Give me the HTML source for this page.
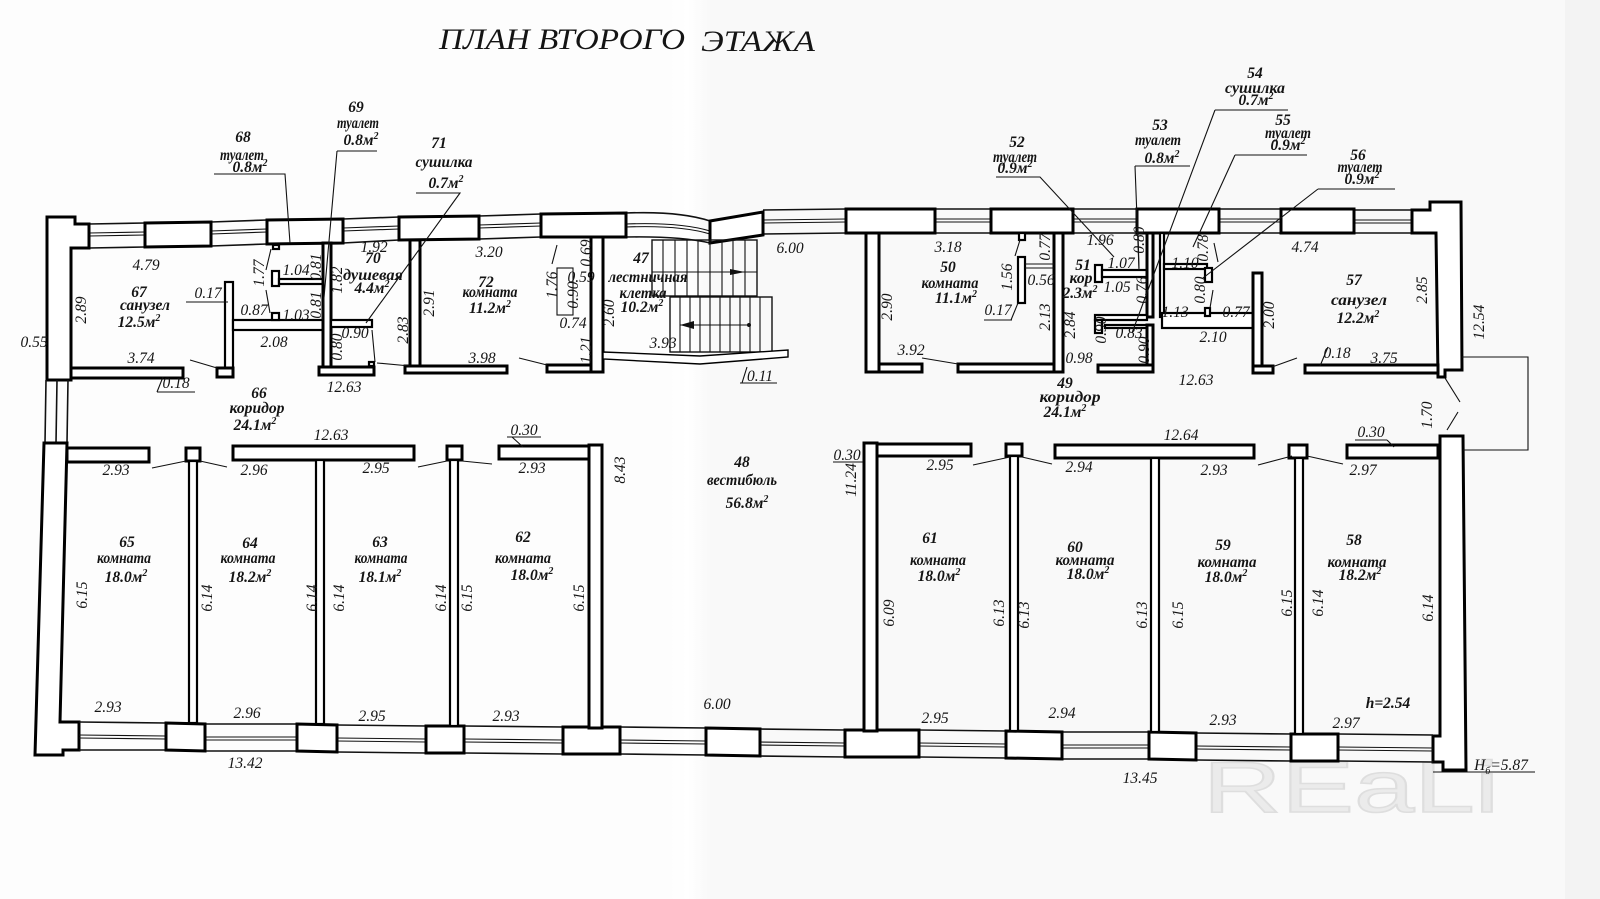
<!DOCTYPE html>
<html><head><meta charset="utf-8">
<style>
html,body{margin:0;padding:0;background:#fff;}
svg{display:block;}
text{font-family:"Liberation Serif","DejaVu Serif",serif;font-style:italic;font-size:15.5px;fill:#141414;text-anchor:middle;}
.b{font-weight:bold;}
.n{font-size:15px;font-weight:bold;}
.w{fill:#fff;stroke:#000;stroke-width:3;stroke-linejoin:miter;}
.p{fill:#fff;stroke:#000;stroke-width:2.2;}
.t{fill:none;stroke:#111;stroke-width:1.1;}
.win{fill:none;stroke:#111;stroke-width:1.6;}
.wm{fill:none;stroke:#111;stroke-width:1.1;}
</style></head>
<body>
<svg width="1600" height="899" viewBox="0 0 1600 899" xmlns="http://www.w3.org/2000/svg">
<defs>
<linearGradient id="fold" x1="0" x2="1" y1="0" y2="0">
<stop offset="0" stop-color="#fdfdfd"/><stop offset="0.5" stop-color="#ffffff"/><stop offset="1" stop-color="#f9f9f9"/>
</linearGradient>
</defs>
<rect x="0" y="0" width="1600" height="899" fill="#fdfdfd"/>
<rect x="700" y="0" width="900" height="899" fill="#f9f9f9"/>
<rect x="668" y="0" width="40" height="899" fill="url(#fold)"/>
<rect x="1565" y="0" width="35" height="899" fill="#f3f3f3"/>

<!-- watermark -->
<text x="1203" y="812" textLength="296" lengthAdjust="spacingAndGlyphs" style="font-family:'Liberation Sans','DejaVu Sans',sans-serif;font-style:normal;font-size:72px;fill:#ebebeb;stroke:#dedede;stroke-width:1.5;text-anchor:start;">REaLi</text>

<!-- title -->
<text x="439" y="49" textLength="246" lengthAdjust="spacingAndGlyphs" style="font-size:30px;text-anchor:start;">ПЛАН ВТОРОГО</text>
<text x="701" y="51" textLength="114" lengthAdjust="spacingAndGlyphs" style="font-size:30px;text-anchor:start;">ЭТАЖА</text>

<!-- ===== TOP WALL ===== -->
<path class="win" d="M89,224 L145,223 M89,248 L145,247 M211,222 L267,220 M211,246 L267,244 M343,219 L399,217 M343,243 L399,240 M479,216 L541,214 M479,239 L541,237 M626,213 Q680,211 710,221 M626,237 Q680,236 710,243 M763,210 L846,209 M763,234 L846,233 M935,209 L991,209 M935,233 L991,233 M1073,209 L1137,209 M1073,233 L1137,233 M1219,209 L1281,209 M1219,233 L1281,233 M1354,210 L1412,210 M1354,233 L1412,233"/>
<path class="wm" d="M89,233 L145,232 M89,236 L145,235 M211,231 L267,229 M211,234 L267,232 M343,228 L399,226 M343,231 L399,229 M479,225 L541,223 M479,228 L541,226 M626,224 Q680,222 710,231 M626,227 Q680,225 710,234 M763,220 L846,219 M763,223 L846,222 M935,219 L991,219 M935,222 L991,222 M1073,219 L1137,219 M1073,222 L1137,222 M1219,219 L1281,219 M1219,222 L1281,222 M1354,220 L1412,220 M1354,223 L1412,223"/>
<polygon class="w" points="47,217 75,217 75,224 89,224 89,248 71,248 71,380 47,380"/>
<polygon class="w" points="145,223 211,222 211,246 145,247"/>
<polygon class="w" points="267,220 343,219 343,243 267,244"/>
<polygon class="w" points="399,217 479,216 479,239 399,240"/>
<polygon class="w" points="541,214 626,213 626,237 541,237"/>
<polygon class="w" points="710,221 763,212 763,235 710,243"/>
<polygon class="w" points="846,209 935,209 935,233 846,233"/>
<polygon class="w" points="991,209 1073,209 1073,233 991,233"/>
<polygon class="w" points="1137,209 1219,209 1219,233 1137,233"/>
<polygon class="w" points="1281,209 1354,209 1354,233 1281,233"/>
<polygon class="w" points="1412,210 1430,210 1430,202 1461,202 1462,370 1445,370 1445,377 1438,377 1436,233 1412,233"/>

<path class="win" d="M46,380 L45,443 M57,380 L56,443 M68,380 L67,443"/>
<polygon class="w" points="44,443 67,443 60,722 79,722 79,750 63,750 63,755 35,755"/>

<polygon class="w" points="1440,436 1463,436 1466,770 1443,770 1443,762 1433,762 1433,736 1440,736"/>
<path class="t" d="M1445,378 L1460,402 M1458,412 L1447,430"/>
<polyline class="t" points="1462,357 1528,357 1528,450 1463,450"/>

<!-- ===== BOTTOM WALL ===== -->
<path class="win" d="M79,722 L166,723 M79,750 L166,750 M205,724 L297,724 M205,751 L297,751 M337,725 L426,726 M337,752 L426,753 M464,726 L563,727 M464,753 L563,754 M620,727 L706,728 M620,754 L706,755 M760,729 L845,730 M760,756 L845,757 M919,730 L1006,731 M919,757 L1006,758 M1062,732 L1149,732 M1062,759 L1149,759 M1196,733 L1291,734 M1196,760 L1291,761 M1338,734 L1433,735 M1338,761 L1433,762"/>
<path class="wm" d="M79,735 L166,736 M79,738 L166,739 M205,737 L297,737 M205,740 L297,740 M337,738 L426,739 M337,741 L426,742 M464,739 L563,740 M464,742 L563,743 M620,740 L706,741 M620,743 L706,744 M760,742 L845,743 M760,745 L845,746 M919,743 L1006,744 M919,746 L1006,747 M1062,745 L1149,745 M1062,748 L1149,748 M1196,746 L1291,747 M1196,749 L1291,750 M1338,747 L1433,748 M1338,750 L1433,751"/>
<polygon class="w" points="166,723 205,724 205,751 166,750"/>
<polygon class="w" points="297,724 337,725 337,752 297,751"/>
<polygon class="w" points="426,726 464,726 464,753 426,753"/>
<polygon class="w" points="563,727 620,727 620,754 563,754"/>
<polygon class="w" points="706,728 760,729 760,756 706,755"/>
<polygon class="w" points="845,730 919,730 919,757 845,757"/>
<polygon class="w" points="1006,731 1062,732 1062,759 1006,758"/>
<polygon class="w" points="1149,732 1196,733 1196,760 1149,759"/>
<polygon class="w" points="1291,734 1338,734 1338,761 1291,761"/>

<rect class="w" x="589" y="445" width="13" height="283"/>
<rect class="w" x="864" y="443" width="13" height="288"/>

<rect class="w" x="67" y="448" width="82" height="14"/>
<rect class="w" x="186" y="448" width="14" height="13"/>
<rect class="w" x="233" y="446" width="181" height="14"/>
<rect class="w" x="447" y="446" width="15" height="14"/>
<rect class="w" x="499" y="446" width="90" height="13"/>
<rect class="w" x="877" y="444" width="94" height="12"/>
<rect class="w" x="1006" y="444" width="16" height="12"/>
<rect class="w" x="1055" y="445" width="199" height="13"/>
<rect class="w" x="1289" y="445" width="18" height="13"/>
<rect class="w" x="1347" y="445" width="91" height="13"/>

<rect class="p" x="189" y="461" width="8" height="262"/>
<rect class="p" x="316" y="460" width="8" height="264"/>
<rect class="p" x="450" y="460" width="8" height="266"/>
<rect class="p" x="1010" y="456" width="8" height="275"/>
<rect class="p" x="1151" y="458" width="8" height="274"/>
<rect class="p" x="1295" y="458" width="8" height="276"/>

<path class="t" d="M152,468 L186,461 M200,461 L227,467 M418,467 L447,461 M462,461 L492,464 M973,465 L1010,457 M1022,457 L1052,464 M1258,465 L1292,456 M1307,456 L1343,464"/>

<!-- ===== LEFT UPPER BLOCK ===== -->
<rect class="w" x="71" y="368" width="112" height="10"/>
<rect class="p" x="225" y="282" width="8" height="86"/>
<rect class="w" x="217" y="368" width="16" height="9"/>
<rect class="p" x="233" y="320" width="90" height="10"/>
<rect class="p" x="272" y="271" width="7" height="15"/>
<rect class="p" x="279" y="279" width="44" height="5"/>
<rect class="p" x="272" y="313" width="7" height="7"/>
<rect class="p" x="273" y="245" width="6" height="4"/>
<rect class="w" x="323" y="243" width="8" height="125"/>
<rect class="w" x="319" y="367" width="55" height="8"/>
<rect class="p" x="331" y="320" width="41" height="7"/>
<rect class="w" x="410" y="240" width="10" height="126"/>
<rect class="w" x="405" y="366" width="102" height="7"/>
<rect class="w" x="547" y="365" width="44" height="7"/>
<rect class="w" x="591" y="237" width="12" height="135"/>
<rect class="t" x="557" y="268" width="16" height="47"/>
<rect class="p" x="369" y="362" width="5" height="4"/>
<path class="t" d="M190,360 L217,368 M271,249 L266,270 M266,290 L270,313 M372,330 L375,362 M377,363 L410,366 M519,358 L547,365 M557,245 L552,264"/>

<!-- stairs -->
<rect class="t" x="652" y="240" width="105" height="56" style="stroke-width:1.4"/>
<path class="t" d="M663,240V296M675,240V296M687,240V296M698,240V296M710,240V296M722,240V296M733,240V296M745,240V296"/>
<line class="t" x1="652" y1="272" x2="757" y2="272"/>
<polygon points="730,269 745,272 730,275" fill="#111"/>
<rect class="t" x="670" y="297" width="102" height="55" style="stroke-width:1.4"/>
<path class="t" d="M680,297V352M690,297V352M700,297V352M710,297V352M720,297V352M730,297V352M740,297V352M750,297V352M760,297V352"/>
<line class="t" x1="680" y1="325" x2="750" y2="325"/>
<polygon points="680,325 694,321 694,329" fill="#111"/>
<circle cx="749" cy="325" r="2" fill="#111"/>
<polygon class="p" style="stroke-width:1.4" points="603,352 700,356 788,350 788,357 700,364 603,359"/>

<!-- ===== RIGHT UPPER BLOCK ===== -->
<rect class="w" x="866" y="233" width="13" height="139"/>
<rect class="w" x="879" y="364" width="43" height="8"/>
<rect class="w" x="958" y="364" width="96" height="8"/>
<rect class="w" x="1054" y="233" width="9" height="139"/>
<rect class="p" x="1018" y="257" width="7" height="46"/>
<rect class="p" x="1019" y="233" width="6" height="7"/>
<path class="t" d="M1025,264 L1054,264 M1025,268 L1054,268 M1020,240 L1015,256 M1018,303 L1011,320 M984,320 L1012,320"/>
<rect class="p" x="1095" y="265" width="7" height="17"/>
<rect class="p" x="1102" y="270" width="45" height="7"/>
<rect class="w" x="1147" y="233" width="6" height="84"/>
<rect class="p" x="1160" y="233" width="4" height="84"/>
<rect class="p" x="1164" y="264" width="43" height="5"/>
<rect class="p" x="1205" y="268" width="7" height="14"/>
<rect class="p" x="1162" y="313" width="91" height="15"/>
<rect class="w" x="1253" y="273" width="9" height="100"/>
<rect class="w" x="1253" y="366" width="20" height="7"/>
<rect class="p" x="1095" y="315" width="52" height="5"/>
<rect class="p" x="1095" y="320" width="7" height="13"/>
<rect class="p" x="1105" y="325" width="42" height="3"/>
<rect class="w" x="1147" y="325" width="6" height="42"/>
<rect class="w" x="1098" y="365" width="55" height="7"/>
<rect class="p" x="1205" y="308" width="5" height="8"/>
<path class="t" d="M1138,233 L1139,268 M1214,243 L1218,262 M1213,290 L1210,308"/>
<rect class="w" x="1305" y="365" width="133" height="8"/>
<path class="t" d="M922,358 L958,364 M1272,367 L1297,358 M1320,366 L1328,347"/>

<!-- leaders -->
<path class="t" d="M214,174 L285,174 L290,243 M337,151 L377,151 M337,151 L322,320 M416,193 L460,193 L366,323 M996,177 L1040,177 L1114,257 M1135,166 L1190,166 M1135,166 L1139,270 M1215,110 L1288,110 M1215,110 L1132,333 M1235,155 L1307,155 M1235,155 L1193,247 M1318,189 L1395,189 M1318,189 L1203,278"/>
<path class="t" d="M186,302 L228,302 M157,392 L195,392 M157,392 L163,377 M507,437 L541,437 M512,437 L523,447 M740,383 L777,383 M742,383 L747,367 M833,462 L863,462 M1355,440 L1387,440 M1387,440 L1394,447 M1433,772 L1535,772"/>

<!-- ===== TEXT: left top ===== -->
<g class="n">
<text x="243" y="142">68</text>
<text x="242" y="160" textLength="44" lengthAdjust="spacingAndGlyphs">туалет</text>
<text x="250" y="172">0.8м<tspan dy="-6" font-size="10">2</tspan></text>
<text x="356" y="112">69</text>
<text x="358" y="128" textLength="42" lengthAdjust="spacingAndGlyphs">туалет</text>
<text x="361" y="145">0.8м<tspan dy="-6" font-size="10">2</tspan></text>
<text x="439" y="148">71</text>
<text x="444" y="167" textLength="57" lengthAdjust="spacingAndGlyphs">сушилка</text>
<text x="446" y="188">0.7м<tspan dy="-6" font-size="10">2</tspan></text>
<text x="373" y="263">70</text>
<text x="373" y="280" textLength="60" lengthAdjust="spacingAndGlyphs">душевая</text>
<text x="372" y="293">4.4м<tspan dy="-6" font-size="10">2</tspan></text>
<text x="139" y="297">67</text>
<text x="145" y="310" textLength="50" lengthAdjust="spacingAndGlyphs">санузел</text>
<text x="139" y="327">12.5м<tspan dy="-6" font-size="10">2</tspan></text>
<text x="486" y="287">72</text>
<text x="490" y="297" textLength="55" lengthAdjust="spacingAndGlyphs">комната</text>
<text x="490" y="313">11.2м<tspan dy="-6" font-size="10">2</tspan></text>
<text x="641" y="263">47</text>
<text x="648" y="282" textLength="79" lengthAdjust="spacingAndGlyphs">лестничная</text>
<text x="643" y="298" textLength="47" lengthAdjust="spacingAndGlyphs">клетка</text>
<text x="642" y="312">10.2м<tspan dy="-6" font-size="10">2</tspan></text>
<text x="259" y="398">66</text>
<text x="257" y="413" textLength="55" lengthAdjust="spacingAndGlyphs">коридор</text>
<text x="255" y="430">24.1м<tspan dy="-6" font-size="10">2</tspan></text>
</g>
<text x="374" y="252">1.92</text>
<text x="146" y="270">4.79</text>
<text transform="translate(81,310) rotate(-90)" y="5">2.89</text>
<text x="34" y="347">0.55</text>
<text transform="translate(259,273) rotate(-90)" y="5">1.77</text>
<text x="296" y="275">1.04</text>
<text transform="translate(316,267) rotate(-90)" y="5">0.81</text>
<text transform="translate(316,305) rotate(-90)" y="5">0.81</text>
<text transform="translate(337,280) rotate(-90)" y="5">1.82</text>
<text x="208" y="298">0.17</text>
<text x="254" y="315">0.87</text>
<text x="296" y="320">1.03</text>
<text x="274" y="347">2.08</text>
<text transform="translate(337,347) rotate(-90)" y="5">0.80</text>
<text x="355" y="338">0.90</text>
<text transform="translate(403,330) rotate(-90)" y="5">2.83</text>
<text transform="translate(429,303) rotate(-90)" y="5">2.91</text>
<text x="489" y="257">3.20</text>
<text x="482" y="363">3.98</text>
<text transform="translate(552,285) rotate(-90)" y="5">1.76</text>
<text transform="translate(586,253) rotate(-90)" y="5">0.69</text>
<text x="581" y="282">0.59</text>
<text transform="translate(573,295) rotate(-90)" y="5">0.90</text>
<text x="573" y="328">0.74</text>
<text transform="translate(586,350) rotate(-90)" y="5">1.21</text>
<text transform="translate(609,313) rotate(-90)" y="5">2.60</text>
<text x="663" y="348">3.93</text>
<text x="760" y="381">0.11</text>
<text x="790" y="253">6.00</text>
<text x="141" y="363">3.74</text>
<text x="176" y="388">0.18</text>
<text x="344" y="392">12.63</text>
<text x="331" y="440">12.63</text>
<text x="524" y="435">0.30</text>

<!-- ===== TEXT: right top ===== -->
<g class="n">
<text x="1017" y="147">52</text>
<text x="1015" y="162" textLength="44" lengthAdjust="spacingAndGlyphs">туалет</text>
<text x="1015" y="173">0.9м<tspan dy="-6" font-size="10">2</tspan></text>
<text x="1160" y="130">53</text>
<text x="1158" y="145" textLength="46" lengthAdjust="spacingAndGlyphs">туалет</text>
<text x="1162" y="163">0.8м<tspan dy="-6" font-size="10">2</tspan></text>
<text x="1255" y="78">54</text>
<text x="1255" y="93" textLength="60" lengthAdjust="spacingAndGlyphs">сушилка</text>
<text x="1256" y="105">0.7м<tspan dy="-6" font-size="10">2</tspan></text>
<text x="1283" y="125">55</text>
<text x="1288" y="138" textLength="46" lengthAdjust="spacingAndGlyphs">туалет</text>
<text x="1288" y="150">0.9м<tspan dy="-6" font-size="10">2</tspan></text>
<text x="1358" y="160">56</text>
<text x="1360" y="172" textLength="45" lengthAdjust="spacingAndGlyphs">туалет</text>
<text x="1362" y="184">0.9м<tspan dy="-6" font-size="10">2</tspan></text>
<text x="948" y="272">50</text>
<text x="950" y="288" textLength="57" lengthAdjust="spacingAndGlyphs">комната</text>
<text x="956" y="303">11.1м<tspan dy="-6" font-size="10">2</tspan></text>
<text x="1083" y="270">51</text>
<text x="1081" y="283" textLength="23" lengthAdjust="spacingAndGlyphs">кор</text>
<text x="1080" y="298">2.3м<tspan dy="-6" font-size="10">2</tspan></text>
<text x="1354" y="285">57</text>
<text x="1359" y="305" textLength="56" lengthAdjust="spacingAndGlyphs">санузел</text>
<text x="1358" y="323">12.2м<tspan dy="-6" font-size="10">2</tspan></text>
<text x="1065" y="388">49</text>
<text x="1070" y="402" textLength="61" lengthAdjust="spacingAndGlyphs">коридор</text>
<text x="1065" y="417">24.1м<tspan dy="-6" font-size="10">2</tspan></text>
</g>
<text x="948" y="252">3.18</text>
<text transform="translate(1007,277) rotate(-90)" y="5">1.56</text>
<text transform="translate(1045,247) rotate(-90)" y="5">0.77</text>
<text x="1041" y="285">0.56</text>
<text x="998" y="315">0.17</text>
<text transform="translate(887,307) rotate(-90)" y="5">2.90</text>
<text transform="translate(1045,317) rotate(-90)" y="5">2.13</text>
<text transform="translate(1070,325) rotate(-90)" y="5">2.84</text>
<text x="911" y="355">3.92</text>
<text x="1079" y="363">0.98</text>
<text x="1100" y="245">1.96</text>
<text x="1121" y="268">1.07</text>
<text x="1117" y="292">1.05</text>
<text transform="translate(1139,240) rotate(-90)" y="5">0.80</text>
<text transform="translate(1142,290) rotate(-90)" y="5">0.76</text>
<text x="1129" y="338">0.83</text>
<text transform="translate(1101,330) rotate(-90)" y="5">0.90</text>
<text transform="translate(1144,350) rotate(-90)" y="5">0.90</text>
<text x="1185" y="268">1.10</text>
<text transform="translate(1203,248) rotate(-90)" y="5">0.78</text>
<text transform="translate(1200,290) rotate(-90)" y="5">0.80</text>
<text x="1175" y="317">1.13</text>
<text x="1236" y="317">0.77</text>
<text x="1213" y="342">2.10</text>
<text transform="translate(1269,315) rotate(-90)" y="5">2.00</text>
<text x="1305" y="252">4.74</text>
<text transform="translate(1422,290) rotate(-90)" y="5">2.85</text>
<text x="1337" y="358">0.18</text>
<text x="1384" y="363">3.75</text>
<text transform="translate(1479,322) rotate(-90)" y="5">12.54</text>
<text x="1196" y="385">12.63</text>
<text transform="translate(1427,415) rotate(-90)" y="5">1.70</text>
<text x="1181" y="440">12.64</text>
<text x="1371" y="437">0.30</text>

<!-- ===== TEXT: bottom left ===== -->
<g class="n">
<text x="742" y="467">48</text>
<text x="742" y="485" textLength="70" lengthAdjust="spacingAndGlyphs">вестибюль</text>
<text x="747" y="508">56.8м<tspan dy="-6" font-size="10">2</tspan></text>
<text x="127" y="547">65</text>
<text x="124" y="563" textLength="54" lengthAdjust="spacingAndGlyphs">комната</text>
<text x="126" y="582">18.0м<tspan dy="-6" font-size="10">2</tspan></text>
<text x="250" y="548">64</text>
<text x="248" y="563" textLength="55" lengthAdjust="spacingAndGlyphs">комната</text>
<text x="250" y="582">18.2м<tspan dy="-6" font-size="10">2</tspan></text>
<text x="380" y="547">63</text>
<text x="381" y="563" textLength="53" lengthAdjust="spacingAndGlyphs">комната</text>
<text x="380" y="582">18.1м<tspan dy="-6" font-size="10">2</tspan></text>
<text x="523" y="542">62</text>
<text x="523" y="563" textLength="56" lengthAdjust="spacingAndGlyphs">комната</text>
<text x="532" y="580">18.0м<tspan dy="-6" font-size="10">2</tspan></text>
</g>
<text x="116" y="475">2.93</text>
<text x="254" y="475">2.96</text>
<text x="376" y="473">2.95</text>
<text x="532" y="473">2.93</text>
<text transform="translate(620,470) rotate(-90)" y="5">8.43</text>
<text transform="translate(82,595) rotate(-90)" y="5">6.15</text>
<text transform="translate(207,598) rotate(-90)" y="5">6.14</text>
<text transform="translate(312,598) rotate(-90)" y="5">6.14</text>
<text transform="translate(339,598) rotate(-90)" y="5">6.14</text>
<text transform="translate(441,598) rotate(-90)" y="5">6.14</text>
<text transform="translate(467,598) rotate(-90)" y="5">6.15</text>
<text transform="translate(579,598) rotate(-90)" y="5">6.15</text>
<text x="108" y="712">2.93</text>
<text x="247" y="718">2.96</text>
<text x="372" y="721">2.95</text>
<text x="506" y="721">2.93</text>
<text x="717" y="709">6.00</text>
<text x="245" y="768">13.42</text>

<!-- ===== TEXT: bottom right ===== -->
<g class="n">
<text x="930" y="543">61</text>
<text x="938" y="565" textLength="56" lengthAdjust="spacingAndGlyphs">комната</text>
<text x="939" y="581">18.0м<tspan dy="-6" font-size="10">2</tspan></text>
<text x="1075" y="552">60</text>
<text x="1085" y="565" textLength="59" lengthAdjust="spacingAndGlyphs">комната</text>
<text x="1088" y="579">18.0м<tspan dy="-6" font-size="10">2</tspan></text>
<text x="1223" y="550">59</text>
<text x="1227" y="567" textLength="59" lengthAdjust="spacingAndGlyphs">комната</text>
<text x="1226" y="582">18.0м<tspan dy="-6" font-size="10">2</tspan></text>
<text x="1354" y="545">58</text>
<text x="1357" y="567" textLength="59" lengthAdjust="spacingAndGlyphs">комната</text>
<text x="1360" y="580">18.2м<tspan dy="-6" font-size="10">2</tspan></text>
</g>
<text x="847" y="460">0.30</text>
<text transform="translate(851,480) rotate(-90)" y="5">11.24</text>
<text x="940" y="470">2.95</text>
<text x="1079" y="472">2.94</text>
<text x="1214" y="475">2.93</text>
<text x="1363" y="475">2.97</text>
<text transform="translate(889,613) rotate(-90)" y="5">6.09</text>
<text transform="translate(999,613) rotate(-90)" y="5">6.13</text>
<text transform="translate(1024,615) rotate(-90)" y="5">6.13</text>
<text transform="translate(1142,615) rotate(-90)" y="5">6.13</text>
<text transform="translate(1178,615) rotate(-90)" y="5">6.15</text>
<text transform="translate(1287,603) rotate(-90)" y="5">6.15</text>
<text transform="translate(1318,603) rotate(-90)" y="5">6.14</text>
<text transform="translate(1428,608) rotate(-90)" y="5">6.14</text>
<text x="1388" y="708" class="b">h=2.54</text>
<text x="935" y="723">2.95</text>
<text x="1062" y="718">2.94</text>
<text x="1223" y="725">2.93</text>
<text x="1346" y="728">2.97</text>
<text x="1140" y="783">13.45</text>
<text x="1501" y="770">H<tspan dy="4" font-size="10">б</tspan><tspan dy="-4">=5.87</tspan></text>
</svg>
</body></html>
